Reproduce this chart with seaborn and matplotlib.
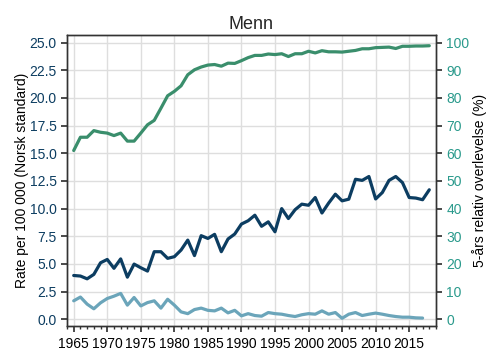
import numpy as np
import pandas as pd
import matplotlib
matplotlib.use("Agg")
import matplotlib.pyplot as plt
from matplotlib.ticker import MultipleLocator
import seaborn as sns

years = list(range(1965, 2019))

incidence = [3.95, 3.9, 3.65, 4.05, 5.1, 5.4, 4.6, 5.45, 3.8, 4.98,
             4.65, 4.35, 6.1, 6.1, 5.5, 5.65, 6.25, 7.15, 5.75, 7.55,
             7.3, 7.67, 6.1, 7.25, 7.7, 8.6, 8.9, 9.4, 8.4, 8.8,
             7.9, 10.0, 9.1, 9.9, 10.4, 10.3, 11.0, 9.6, 10.5, 11.3,
             10.7, 10.85, 12.65, 12.55, 12.9, 10.87, 11.45, 12.55, 12.9, 12.35,
             11.0, 10.95, 10.8, 11.7]

mortality = [1.66, 2.0, 1.36, 0.94, 1.48, 1.87, 2.08, 2.33, 1.27, 1.96,
             1.2, 1.5, 1.66, 1.0, 1.8, 1.27, 0.66, 0.5, 0.87, 1.0,
             0.8, 0.75, 1.0, 0.57, 0.8, 0.3, 0.5, 0.33, 0.27, 0.6,
             0.5, 0.45, 0.33, 0.24, 0.4, 0.5, 0.45, 0.75, 0.45, 0.6,
             0.08, 0.45, 0.6, 0.33, 0.45, 0.55, 0.45, 0.33, 0.24, 0.18,
             0.18, 0.12, 0.1, np.nan]

survival = [61.0, 65.8, 65.8, 68.2, 67.6, 67.3, 66.4, 67.3, 64.4, 64.4,
            67.3, 70.3, 71.9, 76.3, 80.8, 82.4, 84.4, 88.4, 90.2, 91.2,
            91.9, 92.1, 91.5, 92.6, 92.5, 93.5, 94.6, 95.4, 95.4, 95.9,
            95.7, 96.0, 95.0, 96.0, 96.0, 96.9, 96.3, 97.1, 96.7, 96.7,
            96.6, 96.9, 97.2, 97.8, 97.8, 98.2, 98.3, 98.4, 97.9, 98.7,
            98.7, 98.8, 98.8, 98.9]

df = pd.DataFrame({"year": years, "incidence": incidence,
                   "mortality": mortality, "survival": survival})

sns.set_theme(style="ticks")
plt.rcParams["font.family"] = ["Liberation Sans", "DejaVu Sans"]

navy = "#0c3d61"
lightblue = "#6ba5ba"
green = "#3a8e6c"
teal = "#2a9a8c"

fig = plt.figure(figsize=(5, 3.64), dpi=100)
ax = fig.add_axes([0.134, 0.104, 0.738, 0.80])
ax2 = ax.twinx()

sns.lineplot(data=df, x="year", y="incidence", ax=ax, color=navy, linewidth=2.3)
sns.lineplot(data=df, x="year", y="mortality", ax=ax, color=lightblue, linewidth=2.3)
sns.lineplot(data=df, x="year", y="survival", ax=ax2, color=green, linewidth=2.3)

ax.set_xlim(1964, 2019)
ax.set_ylim(-0.63, 25.7)
ax2.set_ylim(-2.52, 102.8)
ax.set_xticks(range(1965, 2019, 5))
ax.xaxis.set_minor_locator(MultipleLocator(1))
ax.set_yticks(np.arange(0, 25.1, 2.5))
ax.set_yticklabels([f"{v:.1f}" for v in np.arange(0, 25.1, 2.5)])
ax2.set_yticks(range(0, 101, 10))

ax.grid(True, color="#dedede", linewidth=1)
ax.set_axisbelow(True)

ax.set_xlabel("")
ax.set_ylabel("Rate per 100 000 (Norsk standard)", fontsize=10, color="black", labelpad=0)
ax2.set_ylabel("5-års relativ overlevelse (%)", fontsize=10, color="black", labelpad=2)
ax.set_title("Menn", fontsize=13, pad=4)

ax.tick_params(axis="y", colors="#333333", labelcolor=navy, labelsize=10, length=4)
ax.tick_params(axis="x", which="major", colors="#333333", labelcolor="black", labelsize=10, length=4)
ax.tick_params(axis="x", which="minor", colors="#333333", length=2)
ax2.tick_params(axis="y", colors="#333333", labelcolor=teal, labelsize=10, length=4)

for a in (ax, ax2):
    for s in a.spines.values():
        s.set_visible(True)
        s.set_color("#333333")
        s.set_linewidth(1)

fig.savefig("out.png", dpi=100)
